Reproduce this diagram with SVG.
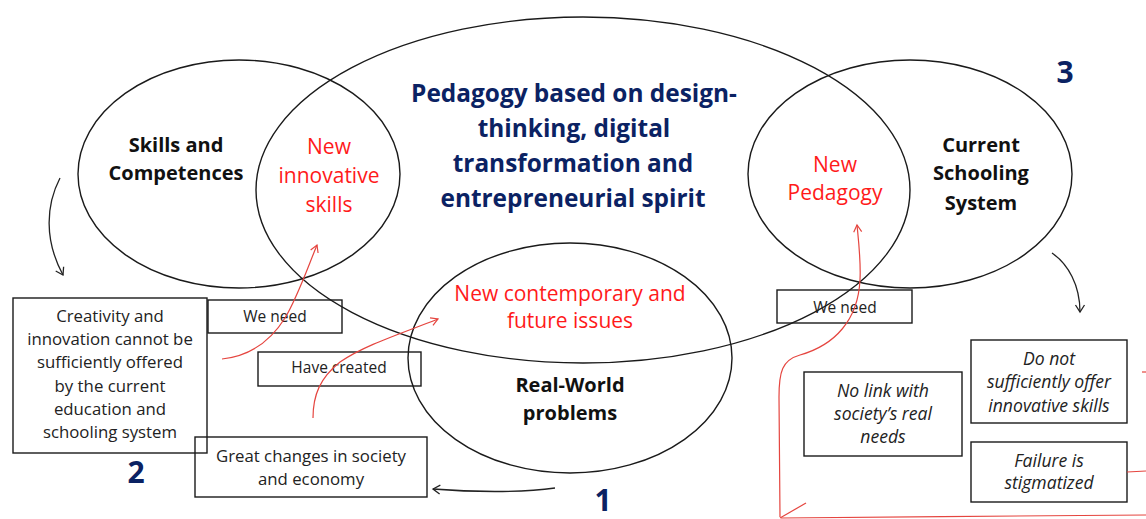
<svg xmlns="http://www.w3.org/2000/svg" width="1146" height="519" viewBox="0 0 1146 519">
<defs>
<style>
.ell{fill:none;stroke:#1a1a1a;stroke-width:1.4}
.box{fill:#fff;stroke:#1a1a1a;stroke-width:1.4}
.boxn{fill:none;stroke:#1a1a1a;stroke-width:1.4}
.t{font-family:"Open Sans",Lato,sans-serif;text-anchor:middle}
.bk{font-weight:bold;font-size:20px;fill:#111}
.rd{font-size:21px;fill:#ff1a1a}
.nv{font-weight:bold;font-size:24.4px;fill:#0b2263}
.num{font-weight:bold;font-size:30px;fill:#0b2263}
.sm{font-size:16.8px;fill:#222}
.lb{font-size:15.5px;fill:#222}
.it{font-size:17.6px;font-style:italic;fill:#222}
.rl{fill:none;stroke:#e5453f;stroke-width:1.2}
.bl{fill:none;stroke:#222;stroke-width:1.3}
</style>
<marker id="ar" markerWidth="10" markerHeight="10" refX="8" refY="5" orient="auto" markerUnits="userSpaceOnUse">
<path d="M1,1 L8,5 L1,9" fill="none" stroke="#e5453f" stroke-width="1.2"/>
</marker>
<marker id="ab" markerWidth="12" markerHeight="12" refX="9" refY="6" orient="auto" markerUnits="userSpaceOnUse">
<path d="M2,1.5 L9,6 L2,10.5" fill="none" stroke="#222" stroke-width="1.3"/>
</marker>
</defs>
<rect width="1146" height="519" fill="#fff"/>

<g id="ellipses">
<ellipse id="e-skills" class="ell" cx="239" cy="174" rx="161" ry="114"/>
<ellipse id="e-pedagogy" class="ell" cx="583" cy="190" rx="327" ry="173"/>
<ellipse id="e-schooling" class="ell" cx="910" cy="174" rx="162" ry="114"/>
<ellipse id="e-realworld" class="ell" cx="570" cy="358" rx="162" ry="115"/>
</g>

<g id="node-skills">
<text class="t bk" x="176" y="152">Skills and</text>
<text class="t bk" x="176" y="180">Competences</text>
</g>
<g id="node-new-skills">
<text class="t rd" x="329" y="154">New</text>
<text class="t rd" x="329" y="183">innovative</text>
<text class="t rd" x="329" y="212">skills</text>
</g>
<g id="node-pedagogy">
<text class="t nv" x="574" y="102">Pedagogy based on design-</text>
<text class="t nv" x="574" y="137">thinking, digital</text>
<text class="t nv" x="573" y="172">transformation and</text>
<text class="t nv" x="573" y="207">entrepreneurial spirit</text>
</g>
<g id="node-new-pedagogy">
<text class="t rd" x="835" y="172">New</text>
<text class="t rd" x="835" y="200">Pedagogy</text>
</g>
<g id="node-schooling">
<text class="t bk" x="981" y="152">Current</text>
<text class="t bk" x="981" y="180">Schooling</text>
<text class="t bk" x="981" y="210">System</text>
</g>
<g id="node-issues">
<text class="t rd" x="570" y="301">New contemporary and</text>
<text class="t rd" x="570" y="328">future issues</text>
</g>
<g id="node-realworld">
<text class="t bk" x="570" y="392">Real-World</text>
<text class="t bk" x="570" y="420">problems</text>
</g>

<g id="node-num3"><text class="t num" x="1065" y="83">3</text></g>
<g id="node-num2"><text class="t num" x="136" y="483">2</text></g>
<g id="node-num1"><text class="t num" x="603" y="511">1</text></g>

<g id="node-creativity">
<rect class="box" x="13" y="298" width="194" height="155"/>
<text class="t sm" x="110" y="322">Creativity and</text>
<text class="t sm" x="110" y="345">innovation cannot be</text>
<text class="t sm" x="110" y="368">sufficiently offered</text>
<text class="t sm" x="110" y="392">by the current</text>
<text class="t sm" x="110" y="415">education and</text>
<text class="t sm" x="110" y="438">schooling system</text>
</g>
<g id="node-weneed1">
<rect class="boxn" x="208" y="300" width="134" height="33"/>
<text class="t lb" x="275" y="322">We need</text>
</g>
<g id="node-havecreated">
<rect class="boxn" x="258" y="352" width="163" height="34"/>
<text class="t lb" x="339" y="373">Have created</text>
</g>
<g id="node-changes">
<rect class="boxn" x="195" y="437" width="232" height="60"/>
<text class="t sm" x="311" y="462">Great changes in society</text>
<text class="t sm" x="311" y="485">and economy</text>
</g>
<g id="node-weneed2">
<rect class="boxn" x="777" y="290" width="135" height="33"/>
<text class="t lb" x="845" y="313">We need</text>
</g>
<g id="node-nolink">
<rect class="box" x="804" y="372" width="158" height="84"/>
<text class="t it" x="883" y="397">No link with</text>
<text class="t it" x="883" y="420">society’s real</text>
<text class="t it" x="883" y="443">needs</text>
</g>
<g id="node-donot">
<rect class="box" x="971" y="340" width="156" height="83"/>
<text class="t it" x="1049" y="365">Do not</text>
<text class="t it" x="1049" y="388">sufficiently offer</text>
<text class="t it" x="1049" y="412">innovative skills</text>
</g>
<g id="node-failure">
<rect class="box" x="971" y="442" width="156" height="60"/>
<text class="t it" x="1049" y="467">Failure is</text>
<text class="t it" x="1049" y="489">stigmatized</text>
</g>

<g id="connectors">
<path class="rl" d="M222,359 C250,356 270,342 285,318 C297,298 306,272 317,245" marker-end="url(#ar)"/>
<path class="rl" d="M313,418 C313,395 320,378 340,362 C365,345 400,334 438,319" marker-end="url(#ar)"/>
<path class="rl" d="M780,517 L779,397 C779,372 782,360 800,355 C835,345 858,320 860,280 C861,262 859,245 857,225" marker-end="url(#ar)"/>
<path class="rl" d="M780,518 L806,503"/>
<path class="rl" d="M781,518 C900,516 1030,517 1146,515"/>
<path class="rl" d="M1127,472 L1146,471"/>
<path class="rl" d="M1142,372 L1146,372"/>
<path class="bl" d="M60,178 C46,205 44,240 63,275" marker-end="url(#ab)"/>
<path class="bl" d="M1052,253 C1068,264 1080,285 1080,312" marker-end="url(#ab)"/>
<path class="bl" d="M555,488 C520,493 470,492 433,489" marker-end="url(#ab)"/>
</g>
</svg>
